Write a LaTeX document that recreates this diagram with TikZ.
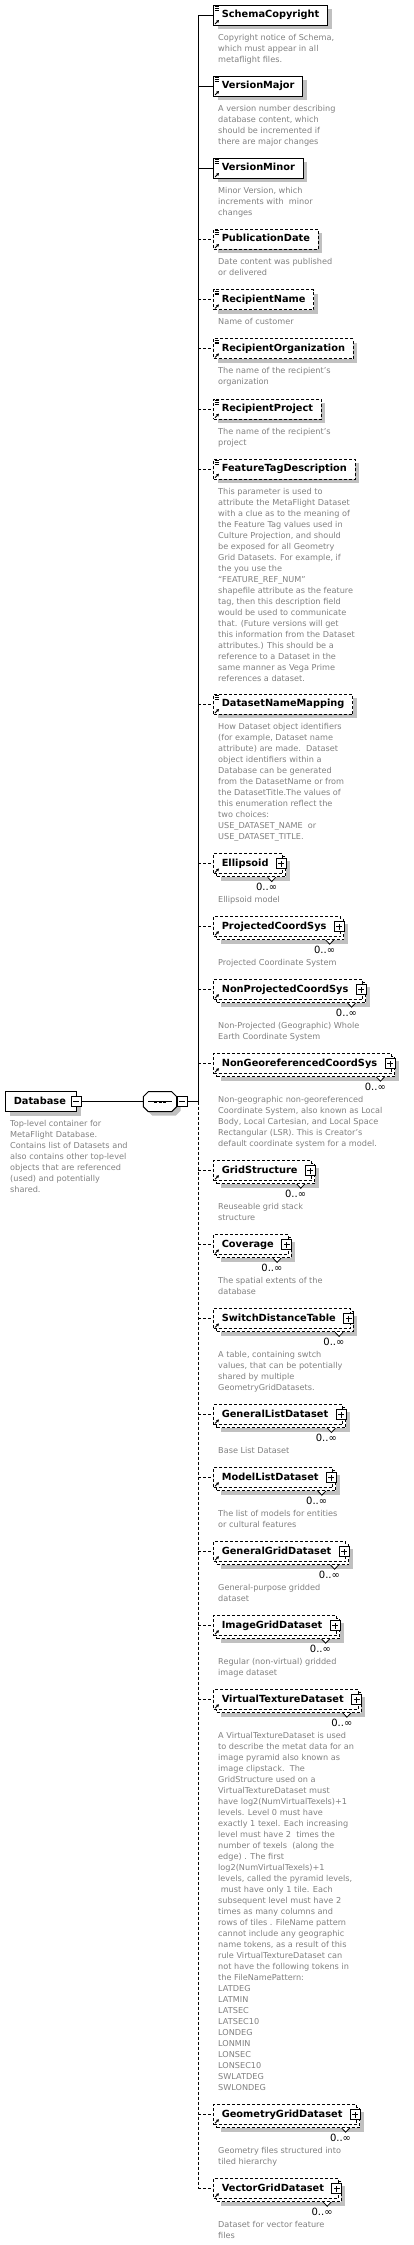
\documentclass[tikz,border=0pt]{standalone}
\usepackage{fontspec}
\setmainfont{DejaVu Sans}
\usepackage{tikz}
\usetikzlibrary{arrows.meta,positioning,calc,shadows}
\definecolor{Ink}{HTML}{000000}
\definecolor{NoteGray}{HTML}{808080}
\definecolor{ShadowGray}{HTML}{C0C0C0}
\newcommand{\namefont}{\fontsize{9.8}{11}\selectfont\bfseries}
\newcommand{\notefont}{\fontsize{8.15}{11}\selectfont}
\newcommand{\multfont}{\fontsize{10}{11}\selectfont}

% simple child element: id, y, line style, name, annotation
\newcommand{\simplechild}[5]{%
  \coordinate (j-#1) at (198,#2);
  \node[elem,#3,drop shadow={shadow xshift=4pt,shadow yshift=-4pt,fill=ShadowGray,opacity=1}] (#1) at (213,#2) {#4};
  \draw[icon] ($(#1.north west)+(1.6,1.9)$) -- +(4.6,0)
              ($(#1.north west)+(1.6,3.7)$) -- +(4,0)
              ($(#1.north west)+(1.6,5.5)$) -- +(4,0);
  \draw[refarrow] ($(#1.south west)+(2,-1.8)$) -- +(4,-4);
  \node[note] (#1-note) at ($(#1.south west)+(5,6.7)$) {\strut #5};
  \draw[conn,#3] (j-#1) -- (#1);
}

% complex child element, 0..unbounded: id, y, name, annotation
\newcommand{\complexchild}[4]{%
  \coordinate (j-#1) at (198,#2);
  \node[elem,opt,
    drop shadow={shadow xshift=7pt,shadow yshift=-7pt,fill=ShadowGray,opacity=1},
    general shadow={shadow xshift=3pt,shadow yshift=-3pt,draw=Ink,fill=white,line width=1pt,dash pattern=on 3pt off 2pt}]
    (#1) at (213,#2) {#3\rule{6pt}{0pt}};
  \node[plusbox] (#1-plus) at ($(#1.east)+(-2,0)$) {};
  \filldraw[notch] ($(#1.south east)+(-15.6,3)$) -- +(4,4.2) -- +(8,0);
  \node[mult] (#1-mult) at ($(#1.south east)+(-6,13.7)$) {0..∞};
  \draw[refarrow] ($(#1.south west)+(2,-1.8)$) -- +(4,-4);
  \node[note] (#1-note) at ($(#1.south west)+(5,20.6)$) {\strut #4};
  \draw[conn,opt] (j-#1) -- (#1);
}

\begin{document}
\begin{tikzpicture}[x=1pt,y=-1pt,
  elem/.style={draw=Ink,fill=white,line width=1pt,anchor=west,minimum height=20pt,
    inner xsep=8.3pt,inner ysep=0pt,text height=7.5pt,text depth=2.5pt,font=\namefont},
  req/.style={},
  opt/.style={dash pattern=on 3pt off 2pt},
  conn/.style={line width=1pt,color=Ink},
  icon/.style={line width=0.8pt,color=Ink},
  refarrow/.style={line width=0.9pt,color=Ink,-{Triangle[length=2.6pt,width=2.8pt]}},
  note/.style={anchor=north west,inner sep=0pt,align=left,font=\notefont,text=NoteGray},
  mult/.style={anchor=mid east,inner sep=0pt,font=\multfont,text=Ink},
  notch/.style={fill=white,draw=Ink,line width=0.8pt},
  minusbox/.style={draw=Ink,fill=white,line width=0.8pt,minimum size=10pt,inner sep=0pt,
    path picture={\draw[line width=0.8pt] ([xshift=2pt]path picture bounding box.west) -- ([xshift=-2pt]path picture bounding box.east);}},
  plusbox/.style={draw=Ink,fill=white,line width=0.8pt,minimum size=10pt,inner sep=0pt,
    path picture={\draw[line width=0.8pt] ([xshift=2pt]path picture bounding box.west) -- ([xshift=-2pt]path picture bounding box.east)
      ([yshift=2pt]path picture bounding box.south) -- ([yshift=-2pt]path picture bounding box.north);}},
  rootbox/.style={draw=Ink,fill=white,line width=1pt,anchor=west,minimum height=20pt,
    inner xsep=8pt,inner ysep=0pt,text height=7.5pt,text depth=2.5pt,font=\namefont,
    drop shadow={shadow xshift=4pt,shadow yshift=-4pt,fill=ShadowGray,opacity=1}},
  seqbox/.style={minimum width=33.4pt,minimum height=20pt,inner sep=0pt,outer sep=0pt}]
\useasboundingbox (0,0) rectangle (413,2245);

% root element and sequence
\node[rootbox] (db) at (5.3,1101.7) {Database\rule{3pt}{0pt}};
\node[minusbox] (db-minus) at ($(db.east)+(-1,0)$) {};
\node[note] (db-note) at ($(db.south west)+(4.7,5.9)$) {\strut Top-level container for\\MetaFlight Database.\\Contains list of Datasets and\\also contains other top-level\\objects that are referenced\\(used) and potentially\\shared.};
\node[seqbox] (seq) at (160,1101.7) {};
\fill[ShadowGray] ($(seq.north west)+(9,4)$) -- ($(seq.north east)+(-1,4)$) -- ($(seq.north east)+(4,9)$)
  -- ($(seq.south east)+(4,-1)$) -- ($(seq.south east)+(-1,4)$) -- ($(seq.south west)+(9,4)$)
  -- ($(seq.south west)+(4,-1)$) -- ($(seq.north west)+(4,9)$) -- cycle;
\filldraw[fill=white,draw=Ink,line width=1pt] ($(seq.north west)+(5,0)$) -- ($(seq.north east)+(-5,0)$) -- ($(seq.north east)+(0,5)$)
  -- ($(seq.south east)+(0,-5)$) -- ($(seq.south east)+(-5,0)$) -- ($(seq.south west)+(5,0)$)
  -- ($(seq.south west)+(0,-5)$) -- ($(seq.north west)+(0,5)$) -- cycle;
\draw[line width=1pt] ($(seq.west)+(5,0)$) -- ($(seq.east)+(-5,0)$);
\foreach \dx in {-4.5,0,4.5}
  \fill[Ink] ($(seq.center)+(\dx-1.5,-1.2)$) rectangle +(3,2.4);
\node[minusbox] (seq-minus) at ($(seq.east)+(5.5,0)$) {};
\coordinate (j-seq) at (198,1101.7);
\draw[conn] (db-minus) -- (seq);
\draw[conn] (seq-minus) -- (j-seq);

% children
\simplechild{copyright}{15.3}{req}{SchemaCopyright}{Copyright notice of Schema,\\which must appear in all\\metaflight files.}
\simplechild{vmajor}{86.3}{req}{VersionMajor}{A version number describing\\database content, which\\should be incremented if\\there are major changes}
\simplechild{vminor}{168.3}{req}{VersionMinor}{Minor Version, which\\increments with\ \ minor\\changes}
\simplechild{pubdate}{239.3}{opt}{PublicationDate}{Date content was published\\or delivered}
\simplechild{rname}{299.7}{opt}{RecipientName}{Name of customer}
\simplechild{rorg}{348.7}{opt}{RecipientOrganization}{The name of the recipient's\\organization}
\simplechild{rproj}{409}{opt}{RecipientProject}{The name of the recipient's\\project}
\simplechild{ftag}{469}{opt}{FeatureTagDescription}{This parameter is used to\\attribute the MetaFlight Dataset\\with a clue as to the meaning of\\the Feature Tag values used in\\Culture Projection, and should\\be exposed for all Geometry\\Grid Datasets. For example, if\\the you use the\\“FEATURE\_REF\_NUM”\\shapefile attribute as the feature\\tag, then this description field\\would be used to communicate\\that. (Future versions will get\\this information from the Dataset\\attributes.) This should be a\\reference to a Dataset in the\\same manner as Vega Prime\\references a dataset.}
\simplechild{dsmap}{704.3}{opt}{DatasetNameMapping}{How Dataset object identifiers\\(for example, Dataset name\\attribute) are made.\ \ Dataset\\object identifiers within a\\Database can be generated\\from the DatasetName or from\\the DatasetTitle.The values of\\this enumeration reflect the\\two choices:\\USE\_DATASET\_NAME\ \ or\\USE\_DATASET\_TITLE.}
\complexchild{ellipsoid}{863.8}{Ellipsoid}{Ellipsoid model}
\complexchild{projcs}{926.5}{ProjectedCoordSys}{Projected Coordinate System}
\complexchild{nonprojcs}{989.5}{NonProjectedCoordSys}{Non-Projected (Geographic) Whole\\Earth Coordinate System}
\complexchild{nongeocs}{1063.5}{NonGeoreferencedCoordSys}{Non-geographic non-georeferenced\\Coordinate System, also known as Local\\Body, Local Cartesian, and Local Space\\Rectangular (LSR). This is Creator's\\default coordinate system for a model.}
\complexchild{gridstruct}{1170.5}{GridStructure}{Reuseable grid stack\\structure}
\complexchild{coverage}{1244.7}{Coverage}{The spatial extents of the\\database}
\complexchild{switchtab}{1318.7}{SwitchDistanceTable}{A table, containing swtch\\values, that can be potentially\\shared by multiple\\GeometryGridDatasets.}
\complexchild{genlist}{1414.7}{GeneralListDataset}{Base List Dataset}
\complexchild{modellist}{1477.5}{ModelListDataset}{The list of models for entities\\or cultural features}
\complexchild{gengrid}{1551.5}{GeneralGridDataset}{General-purpose gridded\\dataset}
\complexchild{imagegrid}{1625.5}{ImageGridDataset}{Regular (non-virtual) gridded\\image dataset}
\complexchild{vtex}{1699.5}{VirtualTextureDataset}{A VirtualTextureDataset is used\\to describe the metat data for an\\image pyramid also known as\\image clipstack.\ \ The\\GridStructure used on a\\VirtualTextureDataset must\\have log2(NumVirtualTexels)+1\\levels. Level 0 must have\\exactly 1 texel. Each increasing\\level must have 2\ \ times the\\number of texels\ \ (along the\\edge) . The first\\log2(NumVirtualTexels)+1\\levels, called the pyramid levels,\\\ must have only 1 tile. Each\\subsequent level must have 2\\times as many columns and\\rows of tiles . FileName pattern\\cannot include any geographic\\name tokens, as a result of this\\rule VirtualTextureDataset can\\not have the following tokens in\\the FileNamePattern:\\LATDEG\\LATMIN\\LATSEC\\LATSEC10\\LONDEG\\LONMIN\\LONSEC\\LONSEC10\\SWLATDEG\\SWLONDEG}
\complexchild{geomgrid}{2114.5}{GeometryGridDataset}{Geometry files structured into\\tiled hierarchy}
\complexchild{vecgrid}{2188.5}{VectorGridDataset}{Dataset for vector feature\\files}

% spine
\draw[conn] (j-copyright) -- (j-seq);
\draw[conn,opt] (j-seq) -- (j-vecgrid);
\end{tikzpicture}
\end{document}
